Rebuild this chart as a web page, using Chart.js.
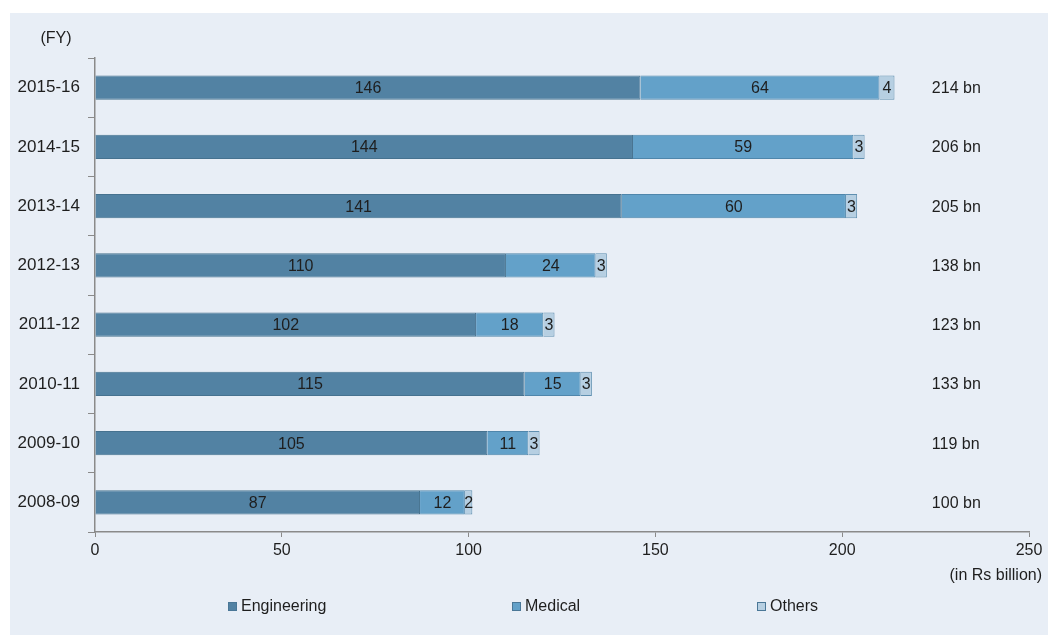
<!DOCTYPE html>
<html>
<head>
    <title>Exports by segment</title>
    <script src="https://cdn.jsdelivr.net/npm/chart.js"></script>
    <style>
        html, body { margin: 0; padding: 0; background: #ffffff; }
    </style>
</head>
<body>
    <canvas id="segChart" width="1048" height="636"></canvas>

    <script>
        // financial years, newest on top
        var years = ['2015-16', '2014-15', '2013-14', '2012-13', '2011-12', '2010-11', '2009-10', '2008-09'];
        var engineering = [146, 144, 141, 110, 102, 115, 105, 87];
        var medical = [64, 59, 60, 24, 18, 15, 11, 12];
        var others = [4, 3, 3, 3, 3, 3, 3, 2];
        var totals = [214, 206, 205, 138, 123, 133, 119, 100];
        var xTicks = [0, 50, 100, 150, 200, 250];

        var FONT = 'Arial, "Liberation Sans", sans-serif';
        var TEXT = '#1e1e1e';

        // light panel behind everything
        var panelBg = {
            id: 'panelBg',
            beforeDraw: function(chart) {
                var ctx = chart.ctx;
                ctx.save();
                ctx.fillStyle = '#ffffff';
                ctx.fillRect(0, 0, chart.width, chart.height);
                ctx.fillStyle = '#e8eef6';
                ctx.fillRect(10, 13, chart.width - 10, chart.height - 14);
                ctx.restore();
            }
        };

        // values inside the segments, totals to the right, titles and legend
        var annotations = {
            id: 'annotations',
            afterDatasetsDraw: function(chart) {
                var ctx = chart.ctx;
                var x = chart.scales.x;
                var y = chart.scales.y;
                ctx.save();
                ctx.fillStyle = TEXT;
                ctx.textBaseline = 'middle';
                ctx.textAlign = 'center';
                ctx.font = '16px ' + FONT;
                chart.data.datasets.forEach(function(ds, di) {
                    var meta = chart.getDatasetMeta(di);
                    meta.data.forEach(function(bar, i) {
                        var p = bar.getCenterPoint();
                        ctx.fillText(String(ds.data[i]), p.x, p.y + 1);
                    });
                });

                ctx.textAlign = 'left';
                totals.forEach(function(t, i) {
                    ctx.fillText(t + ' bn', x.getPixelForValue(224), y.getPixelForValue(i) + 1);
                });

                ctx.textAlign = 'center';
                ctx.fillText('(FY)', 56, 39);
                ctx.textAlign = 'right';
                ctx.fillText('(in Rs billion)', 1042, 576);

                // legend row
                var legendX = [228, 512, 757];
                chart.data.datasets.forEach(function(ds, di) {
                    var lx = legendX[di];
                    ctx.fillStyle = ds.backgroundColor;
                    ctx.fillRect(lx, 602, 9, 9);
                    ctx.strokeStyle = '#4a7797';
                    ctx.lineWidth = 1;
                    ctx.strokeRect(lx + 0.5, 602.5, 8, 8);
                    ctx.fillStyle = TEXT;
                    ctx.textAlign = 'left';
                    ctx.fillText(ds.label, lx + 13, 607);
                });
                ctx.restore();
            }
        };

        var ctx = document.getElementById('segChart').getContext('2d');
        var segChart = new Chart(ctx, {
            type: 'bar',
            data: {
                labels: years,
                datasets: [{
                    label: 'Engineering',
                    data: engineering,
                    backgroundColor: '#5282a3',
                    borderColor: '#46728f',
                    borderWidth: 1
                }, {
                    label: 'Medical',
                    data: medical,
                    backgroundColor: '#63a1c9',
                    borderColor: '#4f86ab',
                    borderWidth: 1
                }, {
                    label: 'Others',
                    data: others,
                    backgroundColor: '#b6cfe2',
                    borderColor: '#5f8fb0',
                    borderWidth: 1
                }]
            },
            options: {
                indexAxis: 'y',
                responsive: false,
                animation: false,
                barPercentage: 0.41,
                categoryPercentage: 1,
                layout: {
                    padding: { left: 0, right: 19, top: 58, bottom: 72 }
                },
                plugins: {
                    legend: { display: false },
                    tooltip: { enabled: false }
                },
                scales: {
                    x: {
                        stacked: true,
                        min: 0,
                        max: 250,
                        afterBuildTicks: function(scale) {
                            scale.ticks = xTicks.map(function(v) { return { value: v }; });
                        },
                        afterFit: function(scale) { scale.height = 32; },
                        grid: {
                            drawOnChartArea: false,
                            drawTicks: true,
                            tickLength: 5,
                            color: '#8a8a8a'
                        },
                        border: { color: '#8a8a8a', width: 1.5 },
                        ticks: {
                            padding: 4,
                            color: TEXT,
                            font: { family: FONT, size: 16 }
                        }
                    },
                    y: {
                        stacked: true,
                        afterFit: function(scale) { scale.width = 95; },
                        grid: {
                            offset: true,
                            drawOnChartArea: false,
                            drawTicks: true,
                            tickLength: 7,
                            color: '#8a8a8a'
                        },
                        border: { color: '#8a8a8a', width: 1.5 },
                        ticks: {
                            padding: 8,
                            color: TEXT,
                            font: { family: FONT, size: 17 }
                        }
                    }
                }
            },
            plugins: [panelBg, annotations]
        });
    </script>
</body>
</html>
